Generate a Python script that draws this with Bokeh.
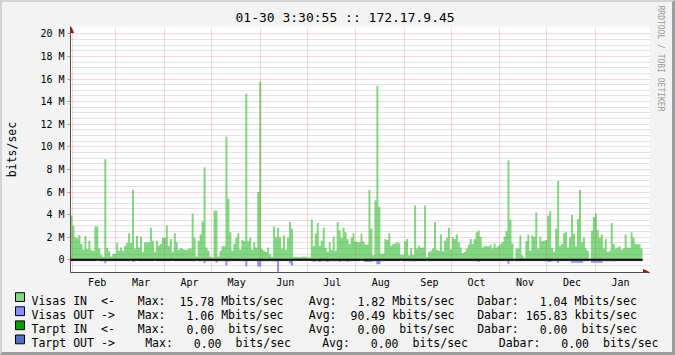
import re
from bokeh.plotting import figure
from bokeh.layouts import column
from bokeh.models import FixedTicker, Arrow, NormalHead, Range1d, Title
from bokeh.core.properties import value
from bokeh.embed import file_html
from bokeh.resources import INLINE

# ---------------- data ----------------
TITLE = "01-30 3:30:55 :: 172.17.9.45"
Y_LABEL = "bits/sec"
WATERMARK = "RRDTOOL / TOBI OETIKER"

month_names = ["Feb", "Mar", "Apr", "May", "Jun", "Jul", "Aug", "Sep", "Oct", "Nov", "Dec", "Jan"]
month_start_day = [1, 29, 60, 90, 121, 151, 182, 213, 243, 274, 304, 335]   # days since 01-31
year_days = 365

y_ticks = [0, 2, 4, 6, 8, 10, 12, 14, 16, 18, 20]
y_tick_labels = ["0", "2 M", "4 M", "6 M", "8 M", "10 M", "12 M", "14 M", "16 M", "18 M", "20 M"]

# Visas IN (Mbit/s), one value per sample across the year
visas_in = [
    3.9, 3.0, 2.0, 1.9, 2.2, 1.4, 0.9, 2.1, 0.95, 1.7, 0.9, 0.8,
    2.95, 2.95, 1.0, 0.45, 0.25, 8.9, 1.05, 0.75, 0.3, 0.55, 0.55, 1.5,
    0.8, 1.1, 0.8, 1.25, 1.5, 2.35, 1.5, 6.2, 1.0, 2.1, 1.1, 2.05,
    0.7, 1.55, 1.55, 1.55, 2.85, 1.7, 0.7, 1.7, 1.25, 1.4, 1.95, 1.95,
    3.05, 1.25, 1.85, 0.7, 2.35, 1.55, 0.9, 1.05, 0.95, 0.9, 0.9, 1.0,
    1.0, 4.1, 1.95, 0.3, 1.7, 2.25, 3.4, 8.2, 1.1, 0.8, 0.3, 0.2,

    4.35, 4.35, 0.3, 0.8, 1.2, 1.2, 10.9, 5.4, 2.45, 0.8, 1.4, 1.95,
    2.35, 0.9, 1.75, 1.65, 14.7, 1.7, 1.95, 0.9, 1.55, 1.1, 6.0, 15.78,
    0.95, 0.8, 0.7, 1.1, 0.5, 0.25, 2.95, 2.0, 2.85, 2.0, 1.0, 2.15,
    0.9, 1.95, 3.35, 2.75, 0.25, 0.25, 0.25, 0.25, 0.25, 0.3, 0.25, 0.2,
    0.2, 3.55, 1.2, 2.35, 3.25, 1.25, 1.7, 2.85, 1.05, 0.7, 1.55, 0.9,
    2.05, 0.8, 3.35, 2.6, 1.95, 2.85, 2.45, 1.85, 1.4, 1.95, 2.35, 1.65,

    1.55, 1.55, 2.3, 1.65, 1.35, 1.35, 6.2, 2.75, 0.4, 5.25, 15.4, 4.7,
    0.55, 0.55, 1.85, 1.75, 2.35, 1.25, 1.4, 1.45, 1.55, 1.45, 0.45, 0.45,
    1.65, 1.85, 0.4, 1.05, 0.45, 4.8, 1.0, 1.25, 1.05, 1.1, 4.8, 0.25,
    0.7, 0.8, 1.0, 3.35, 0.9, 0.8, 2.25, 0.75, 1.7, 1.95, 2.85, 0.9,
    2.0, 1.85, 2.25, 1.55, 1.1, 0.6, 0.7, 1.0, 1.35, 1.85, 1.4, 1.85,
    2.45, 2.6, 2.05, 1.1, 1.2, 1.2, 1.2, 1.35, 1.0, 1.45, 1.1, 1.25,

    1.4, 1.55, 2.05, 2.55, 8.8, 3.55, 1.45, 0.1, 1.0, 1.0, 2.15, 0.4,
    0.2, 1.65, 2.25, 0.8, 2.15, 2.05, 4.2, 1.0, 2.05, 1.65, 1.7, 1.75,
    3.9, 4.3, 1.05, 0.7, 2.75, 7.0, 1.25, 1.4, 2.35, 2.45, 1.1, 2.0,
    4.0, 2.3, 1.2, 3.6, 6.2, 1.55, 1.95, 1.0, 0.8, 0.1, 2.55, 3.8,
    4.1, 2.65, 1.95, 2.25, 1.0, 1.85, 0.7, 0.8, 3.25, 1.4, 1.0, 1.1,
    1.2, 0.9, 1.0, 2.25, 1.1, 1.05, 2.45, 1.95, 1.4, 1.35, 1.4, 1.0,
]

# Visas OUT (Mbit/s, drawn below zero)
visas_out = [
    0.12, 0.12, 0.12, 0.12, 0.12, 0.12, 0.12, 0.12, 0.12, 0.12, 0.12, 0.12,
    0.12, 0.0, 0.05, 0.12, 0.12, 0.3, 0.12, 0.12, 0.12, 0.12, 0.12, 0.12,
    0.12, 0.12, 0.12, 0.12, 0.12, 0.12, 0.0, 0.2, 0.12, 0.0, 0.12, 0.12,
    0.12, 0.12, 0.12, 0.12, 0.12, 0.12, 0.0, 0.12, 0.12, 0.12, 0.12, 0.12,
    0.12, 0.12, 0.12, 0.0, 0.12, 0.12, 0.12, 0.12, 0.12, 0.12, 0.12, 0.12,
    0.12, 0.12, 0.12, 0.0, 0.12, 0.12, 0.12, 0.3, 0.12, 0.12, 0.12, 0.12,

    0.12, 0.25, 0.12, 0.12, 0.12, 0.12, 0.5, 0.15, 0.12, 0.12, 0.12, 0.12,
    0.12, 0.12, 0.12, 0.12, 0.6, 0.12, 0.12, 0.12, 0.12, 0.12, 0.6, 0.6,
    0.12, 0.12, 0.12, 0.12, 0.12, 0.12, 0.12, 0.15, 1.06, 0.12, 0.12, 0.12,
    0.12, 0.12, 0.3, 0.5, 0.08, 0.08, 0.08, 0.08, 0.08, 0.08, 0.08, 0.08,
    0.08, 0.12, 0.18, 0.12, 0.12, 0.18, 0.12, 0.12, 0.12, 0.18, 0.12, 0.12,
    0.12, 0.12, 0.12, 0.18, 0.12, 0.12, 0.12, 0.18, 0.12, 0.12, 0.12, 0.12,

    0.12, 0.12, 0.0, 0.12, 0.18, 0.18, 0.18, 0.18, 0.12, 0.12, 0.4, 0.4,
    0.12, 0.12, 0.12, 0.12, 0.12, 0.12, 0.12, 0.12, 0.12, 0.12, 0.0, 0.12,
    0.12, 0.12, 0.12, 0.12, 0.12, 0.15, 0.12, 0.12, 0.12, 0.12, 0.12, 0.0,
    0.12, 0.12, 0.12, 0.12, 0.12, 0.12, 0.12, 0.12, 0.12, 0.12, 0.12, 0.12,
    0.12, 0.12, 0.12, 0.12, 0.12, 0.12, 0.12, 0.12, 0.12, 0.12, 0.12, 0.12,
    0.12, 0.18, 0.12, 0.12, 0.12, 0.12, 0.12, 0.12, 0.12, 0.12, 0.12, 0.12,

    0.12, 0.12, 0.12, 0.12, 0.35, 0.12, 0.12, 0.0, 0.12, 0.12, 0.12, 0.12,
    0.12, 0.12, 0.12, 0.12, 0.12, 0.12, 0.12, 0.12, 0.12, 0.12, 0.12, 0.12,
    0.18, 0.18, 0.12, 0.12, 0.12, 0.25, 0.12, 0.12, 0.12, 0.12, 0.12, 0.12,
    0.25, 0.25, 0.25, 0.25, 0.25, 0.25, 0.12, 0.12, 0.12, 0.0, 0.25, 0.25,
    0.25, 0.25, 0.25, 0.25, 0.12, 0.12, 0.12, 0.12, 0.12, 0.15, 0.12, 0.12,
    0.12, 0.12, 0.12, 0.12, 0.12, 0.12, 0.12, 0.12, 0.12, 0.12, 0.12, 0.12,
]

legend_names = ["Visas IN  <-", "Visas OUT ->", "Tarpt IN  <-", "Tarpt OUT ->"]
legend_max = ["Max:  15.78 Mbits/sec", "Max:   1.06 Mbits/sec", "Max:   0.00  bits/sec", "Max:   0.00  bits/sec"]
legend_avg = ["Avg:   1.82 Mbits/sec", "Avg:  90.49 kbits/sec", "Avg:   0.00  bits/sec", "Avg:   0.00  bits/sec"]
legend_now = ["Dabar:   1.04 Mbits/sec", "Dabar: 165.83 kbits/sec", "Dabar:   0.00  bits/sec", "Dabar:   0.00  bits/sec"]

# ---------------- styling / layout ----------------
IN_COLOR = "#80d880"
OUT_COLOR = "#8a90ff"
TIN_COLOR = "#00a000"
TOUT_COLOR = "#5070c8"
legend_colors = [IN_COLOR, OUT_COLOR, TIN_COLOR, TOUT_COLOR]
BACK = "#f3f3f3"
AXIS = "#505050"
ARROW = "#8b1a1a"
MONO = "DejaVu Sans Mono"
CW = 6.95          # monospace advance of the legend font, px

# image coords: 2px light border top/left, 3px dark border right/bottom
BL, BT, BR, BB = 2, 2, 3, 3
W_IN, H_IN = 675 - BL - BR, 355 - BT - BB
SPLIT = 290                       # image y where the legend strip starts
FL, FR, FT, FB = 67, 650, 26, 272  # plot frame edges, image coords
PX_PER_DAY = 576 / year_days
x_end = (FR - FL) / PX_PER_DAY
Y0, Y1 = -1.12, 20.65

n = len(visas_in)
step = year_days / n
x_edges = [i * step for i in range(n + 1)]
in_y = visas_in + [visas_in[-1]]
out_y = [-v for v in visas_out] + [-visas_out[-1]]

main_h = SPLIT - BT
p = figure(width=W_IN, height=main_h, title=None, output_backend="svg", toolbar_location=None,
           x_range=Range1d(0, x_end), y_range=Range1d(Y0, Y1),
           min_border_left=FL - BL, min_border_right=(BL + W_IN) - FR,
           min_border_top=FT - BT, min_border_bottom=SPLIT - FB)
p.border_fill_color = BACK
p.background_fill_color = "white"
p.outline_line_color = None
p.frame_align = False

p.varea_step(x=x_edges, y1=[0] * (n + 1), y2=in_y, step_mode="after", fill_color=IN_COLOR)
p.varea_step(x=x_edges, y1=[0] * (n + 1), y2=out_y, step_mode="after", fill_color=OUT_COLOR)
zero = p.segment(x0=[x_edges[0]], x1=[x_edges[-1]], y0=[0], y1=[0], line_color="black", line_width=2)
zero.level = "overlay"

# x axis: month names centred in the months, grid at month starts
mid_month = [d + 16 for d in month_start_day]
p.xaxis.ticker = FixedTicker(ticks=mid_month)
p.xaxis.major_label_overrides = {t: nm for t, nm in zip(mid_month, month_names)}
p.xaxis.major_tick_in = 0
p.xaxis.major_tick_out = 0
p.xaxis.minor_tick_in = 0
p.xaxis.minor_tick_out = 0
p.xaxis.axis_line_color = AXIS
p.xaxis.major_label_text_font = MONO
p.xaxis.major_label_text_font_size = "10px"
p.xaxis.major_label_text_color = "black"
p.xaxis.major_label_standoff = 4

y_minor = [k * 0.5 for k in range(-1, 40) if (k * 0.5) not in y_ticks]
p.yaxis.ticker = FixedTicker(ticks=y_ticks, minor_ticks=y_minor)
p.yaxis.major_label_overrides = {t: lab for t, lab in zip(y_ticks, y_tick_labels)}
p.yaxis.major_tick_in = 0
p.yaxis.major_tick_out = 3
p.yaxis.major_tick_line_color = "#e08080"
p.yaxis.minor_tick_in = 0
p.yaxis.minor_tick_out = 0
p.yaxis.axis_line_color = AXIS
p.yaxis.major_label_text_font = MONO
p.yaxis.major_label_text_font_size = "10px"
p.yaxis.major_label_text_color = "black"
p.yaxis.major_label_standoff = 3
p.yaxis.axis_label = Y_LABEL
p.yaxis.axis_label_text_font = MONO
p.yaxis.axis_label_text_font_size = "11.5px"
p.yaxis.axis_label_text_font_style = "normal"
p.yaxis.axis_label_text_color = "black"
p.yaxis.axis_label_standoff = 18

p.xgrid.ticker = FixedTicker(ticks=month_start_day)
for g in (p.xgrid, p.ygrid):
    g.grid_line_color = "red"
    g.grid_line_alpha = 0.3
    g.grid_line_dash = "1 1"
    g.level = "overlay"
p.ygrid.minor_grid_line_color = "#808080"
p.ygrid.minor_grid_line_alpha = 0.4
p.ygrid.minor_grid_line_dash = "1 1"

# axis arrows
p.add_layout(Arrow(end=NormalHead(size=6, fill_color=ARROW, line_color=ARROW, line_width=1),
                   x_start=0, y_start=20.0, x_end=0, y_end=Y1, line_alpha=0))
p.add_layout(Arrow(end=NormalHead(size=6, fill_color=ARROW, line_color=ARROW, line_width=1),
                   x_start=x_end - 4, y_start=Y0, x_end=x_end, y_end=Y0, line_alpha=0))

# title and vertical credit
p.add_layout(Title(text=TITLE, align="left", offset=232 - FL, standoff=4,
                   text_font=MONO, text_font_size="13px", text_font_style="normal",
                   text_color="black"), "above")
p.add_layout(Title(text=WATERMARK, align="left", offset=5 - FT, standoff=12,
                   text_font=MONO, text_font_size="8px", text_font_style="normal",
                   text_color="#9a9a9a"), "right")

# ---------------- legend strip ----------------
leg = figure(width=W_IN, height=(BT + H_IN) - SPLIT, title=None, output_backend="svg",
             toolbar_location=None,
             x_range=Range1d(BL, BL + W_IN), y_range=Range1d(BT + H_IN, SPLIT),
             x_axis_type=None, y_axis_type=None, min_border=0,
             min_border_left=0, min_border_right=0, min_border_top=0, min_border_bottom=0)
leg.border_fill_color = BACK
leg.background_fill_color = BACK
leg.outline_line_color = None
leg.grid.visible = False
leg.frame_align = False

row_base = [300.5, 314.6, 328.7, 342.8]
max_x = [137.3, 137.3, 137.3, 144.7]
avg_x = [308.3, 308.3, 308.3, 321.7]
now_x = [476.7, 476.7, 476.7, 498.3]

leg.quad(left=[15] * 4, right=[24] * 4, top=[b - 8.3 for b in row_base],
         bottom=[b + 0.5 for b in row_base], fill_color=legend_colors,
         line_color="black", line_width=1)

# monospace columns: each word is placed at its character column
tx, ty, tt = [], [], []
for i in range(4):
    for txt, xx in ((legend_names[i], 31), (legend_max[i], max_x[i]),
                    (legend_avg[i], avg_x[i]), (legend_now[i], now_x[i])):
        for m in re.finditer(r"\S+", txt):
            tx.append(xx + m.start() * CW)
            ty.append(row_base[i])
            tt.append(m.group())
leg.text(x=tx, y=ty, text=tt, text_font=value(MONO), text_font_size=value("11.5px"),
         text_align="left", text_baseline="alphabetic", text_color="black")

layout = column(p, leg, spacing=0, styles={
    "border-style": "solid",
    "border-width": f"{BT}px {BR}px {BB}px {BL}px",
    "border-color": "#d4d4d4 #9e9e9e #9e9e9e #d4d4d4",
    "background-color": BACK,
})

open("out.html", "w").write(file_html(layout, INLINE))
